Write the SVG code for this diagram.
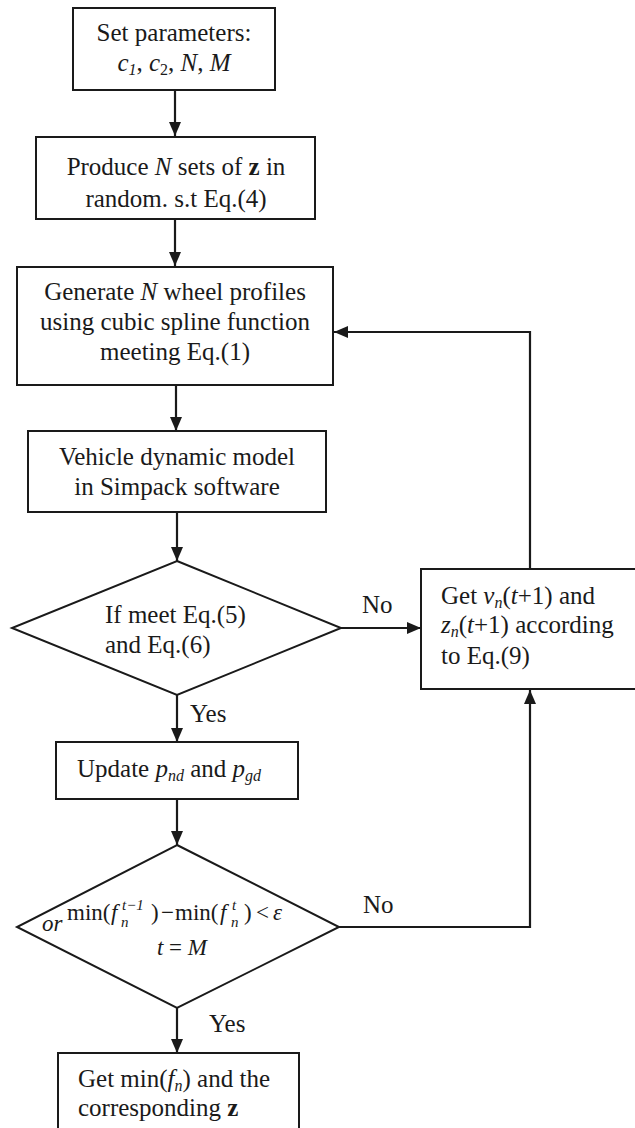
<svg xmlns="http://www.w3.org/2000/svg" width="635" height="1128" viewBox="0 0 635 1128">
<style>
  .box { fill: #ffffff; stroke: #1a1a1a; stroke-width: 2; }
  .line { fill: none; stroke: #1a1a1a; stroke-width: 2.2; }
  text { font-family: "Liberation Serif", "Times New Roman", serif; font-size: 25px; fill: #1a1a1a; }
  .c { text-anchor: middle; }
  .i { font-style: italic; }
  .b { font-weight: bold; }
  .s { font-size: 16px; }
  .eq { font-size: 23px; }
  .eqs { font-size: 15px; font-style: italic; }
</style>
<defs>
  <marker id="arr" viewBox="0 0 14 12" refX="14" refY="6" markerWidth="14" markerHeight="12" markerUnits="userSpaceOnUse" orient="auto">
    <path d="M0,0 L14,6 L0,12 z" fill="#1a1a1a"/>
  </marker>
</defs>

<g id="connectors">
  <line class="line" x1="175" y1="90" x2="175" y2="136" marker-end="url(#arr)"/>
  <line class="line" x1="175" y1="219" x2="175" y2="266" marker-end="url(#arr)"/>
  <line class="line" x1="176" y1="385" x2="176" y2="431" marker-end="url(#arr)"/>
  <line class="line" x1="177" y1="512" x2="177" y2="561" marker-end="url(#arr)"/>
  <line class="line" x1="341" y1="628" x2="421" y2="628" marker-end="url(#arr)"/>
  <polyline class="line" points="530,569 530,332 334,332" marker-end="url(#arr)"/>
  <line class="line" x1="177" y1="695" x2="177" y2="742" marker-end="url(#arr)"/>
  <line class="line" x1="177" y1="799" x2="177" y2="845" marker-end="url(#arr)"/>
  <polyline class="line" points="339,927 530,927 530,690" marker-end="url(#arr)"/>
  <line class="line" x1="177" y1="1008" x2="177" y2="1053" marker-end="url(#arr)"/>
  <text x="362" y="613">No</text>
  <text x="190" y="722">Yes</text>
  <text x="363" y="913">No</text>
  <text x="209" y="1032">Yes</text>
</g>

<g id="n1">
  <rect class="box" x="73" y="8" width="202" height="82"/>
  <text class="c" x="174" y="41">Set parameters:</text>
  <text class="c" x="174" y="71"><tspan class="i">c</tspan><tspan class="i s" dy="4">1</tspan><tspan dy="-4">, </tspan><tspan class="i">c</tspan><tspan class="s" dy="4">2</tspan><tspan dy="-4">, </tspan><tspan class="i">N</tspan>, <tspan class="i">M</tspan></text>
</g>

<g id="n2">
  <rect class="box" x="36" y="137" width="279" height="82"/>
  <text class="c" x="176" y="175">Produce <tspan class="i">N</tspan> sets of <tspan class="b">z</tspan> in</text>
  <text class="c" x="176" y="207">random. s.t Eq.(4)</text>
</g>

<g id="n3">
  <rect class="box" x="17" y="267" width="316" height="118"/>
  <text class="c" x="175" y="300">Generate <tspan class="i">N</tspan> wheel profiles</text>
  <text class="c" x="175" y="330">using cubic spline function</text>
  <text class="c" x="175" y="360">meeting Eq.(1)</text>
</g>

<g id="n4">
  <rect class="box" x="28" y="431" width="298" height="81"/>
  <text class="c" x="177" y="465">Vehicle dynamic model</text>
  <text class="c" x="177" y="495">in Simpack software</text>
</g>

<g id="n5">
  <polygon class="box" points="177,561 341,628 177,695 12,628"/>
  <text x="105" y="623">If meet Eq.(5)</text>
  <text x="105" y="653">and Eq.(6)</text>
</g>

<g id="n6">
  <rect class="box" x="421" y="569" width="220" height="120"/>
  <text x="441" y="604">Get <tspan class="i">v</tspan><tspan class="i s" dy="4">n</tspan><tspan dy="-4">(</tspan><tspan class="i">t</tspan>+1) and</text>
  <text x="441" y="633"><tspan class="i">z</tspan><tspan class="i s" dy="4">n</tspan><tspan dy="-4">(</tspan><tspan class="i">t</tspan>+1) according</text>
  <text x="441" y="664">to Eq.(9)</text>
</g>

<g id="n7">
  <rect class="box" x="56" y="742" width="242" height="57"/>
  <text x="77" y="777">Update <tspan class="i">p</tspan><tspan class="i s" dy="4">nd</tspan><tspan dy="-4"> and </tspan><tspan class="i">p</tspan><tspan class="i s" dy="4">gd</tspan></text>
</g>

<g id="n8">
  <polygon class="box" points="177,845 339,927 177,1008 17,927"/>
  <text class="eq" x="67" y="920">min(</text>
  <text class="eq i" x="111" y="920">f</text>
  <text class="eqs" x="122" y="910">t−1</text>
  <text class="eqs" x="121" y="927">n</text>
  <text class="eq" x="151" y="920">)</text>
  <text class="eq" x="161" y="920">−</text>
  <text class="eq" x="175" y="920">min(</text>
  <text class="eq i" x="220" y="920">f</text>
  <text class="eqs" x="232" y="910">t</text>
  <text class="eqs" x="231" y="927">n</text>
  <text class="eq" x="244" y="920">)</text>
  <text class="eq" x="256" y="920">&lt;</text>
  <text class="eq i" x="273" y="920">ε</text>
  <text class="eq i" x="42" y="931">or</text>
  <text class="eq" x="182" y="955" text-anchor="middle"><tspan class="i">t</tspan> = <tspan class="i">M</tspan></text>
</g>

<g id="n9">
  <rect class="box" x="58" y="1053" width="241" height="82"/>
  <text x="78" y="1087">Get min(<tspan class="i">f</tspan><tspan class="i s" dy="4">n</tspan><tspan dy="-4">) and the</tspan></text>
  <text x="78" y="1116">corresponding <tspan class="b">z</tspan></text>
</g>
</svg>
